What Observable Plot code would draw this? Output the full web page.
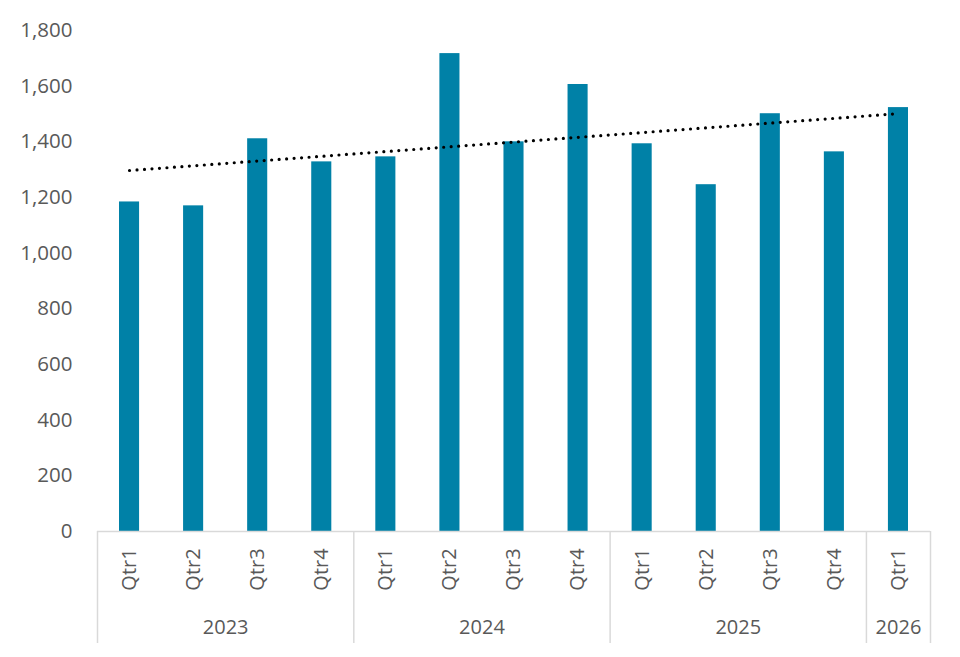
<!DOCTYPE html>
<html>
<head>
<meta charset="utf-8">
<script src="https://cdn.jsdelivr.net/npm/d3@7"></script>
<script src="https://cdn.jsdelivr.net/npm/@observablehq/plot@0.6"></script>
<style>
  html, body { margin: 0; padding: 0; background: #fff; }
  svg { display: block; }
</style>
</head>
<body>
<div id="chart"></div>
<script>
// Data
const years    = ["2023","2023","2023","2023","2024","2024","2024","2024","2025","2025","2025","2025","2026"];
const quarters = ["Qtr1","Qtr2","Qtr3","Qtr4","Qtr1","Qtr2","Qtr3","Qtr4","Qtr1","Qtr2","Qtr3","Qtr4","Qtr1"];
const values   = [1184, 1170, 1411, 1328, 1346, 1717, 1400, 1606, 1393, 1246, 1501, 1364, 1523];
const yTicks   = [0, 200, 400, 600, 800, 1000, 1200, 1400, 1600, 1800];

const rows = values.map((v, i) => ({i, year: years[i], quarter: quarters[i], value: v}));

// Year groups: start index and end index (exclusive)
const groups = Array.from(d3.group(rows, d => d.year), ([year, rs]) => ({
  year, start: rs[0].i, end: rs[rs.length - 1].i + 1
}));
const boundaries = Array.from(new Set(groups.flatMap(g => [g.start, g.end])));

const barColor = "#0081A7";
const gridColor = "#d9d9d9";
const fmt = d3.format(",");

const chart = Plot.plot({
  width: 960,
  height: 657,
  marginLeft: 97,
  marginRight: 30,
  marginTop: 30,
  marginBottom: 126,
  style: {fontFamily: "'Open Sans', sans-serif", fontSize: "20px", color: "#595959", background: "#fff"},
  x: {domain: [0, values.length], axis: null},
  y: {domain: [0, 1800], axis: null},
  marks: [
    Plot.rectY(rows, {x1: d => d.i, x2: d => d.i + 1, y: "value", fill: barColor, insetLeft: 22, insetRight: 22}),
    Plot.ruleY([0], {stroke: gridColor, strokeWidth: 1.5}),
    Plot.ruleX(boundaries, {x: d => d, stroke: gridColor, strokeWidth: 1.5, insetTop: 501, insetBottom: -112}),
    Plot.linearRegressionY(rows, {x: d => d.i + 0.5, y: "value", ci: 0, stroke: "#000", strokeWidth: 3.2, strokeDasharray: "0 7.5", strokeLinecap: "round"}),
    Plot.axisY({ticks: yTicks, tickFormat: fmt, tickSize: 0, tickPadding: 25, label: null, fontSize: 20.5, fill: "#595959"}),
    Plot.text(rows, {x: d => d.i + 0.5, text: "quarter", frameAnchor: "bottom", dy: 38, rotate: -90, textAnchor: "middle", lineAnchor: "middle", fontSize: 20, fill: "#595959"}),
    Plot.text(groups, {x: d => (d.start + d.end) / 2, text: "year", frameAnchor: "bottom", dy: 96, textAnchor: "middle", lineAnchor: "middle", fontSize: 20, fill: "#595959"})
  ]
});
document.getElementById("chart").appendChild(chart);
</script>
</body>
</html>
